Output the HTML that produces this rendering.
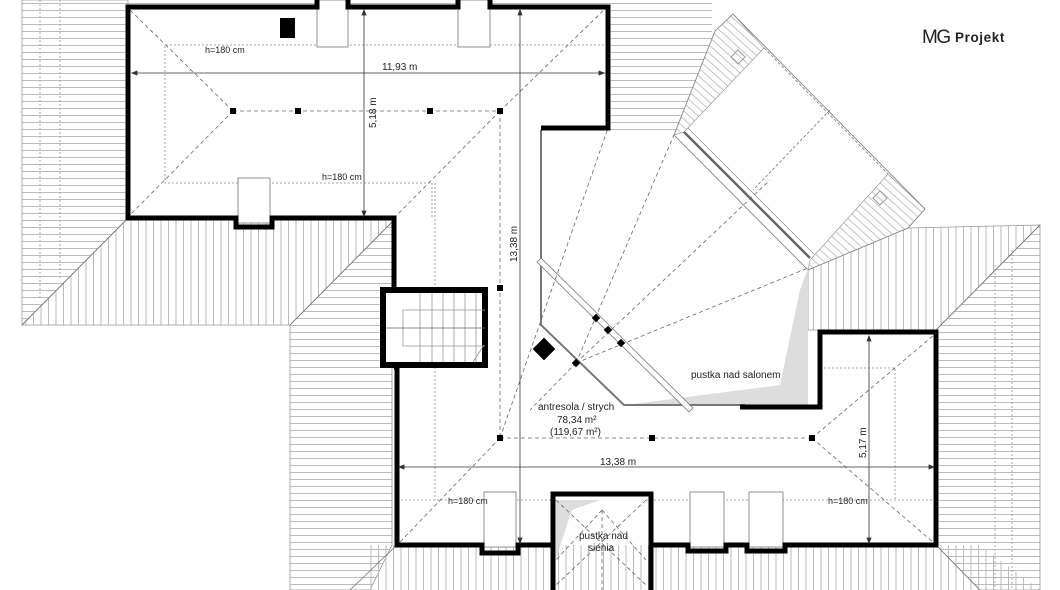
<!DOCTYPE html>
<html><head><meta charset="utf-8"><style>
html,body{margin:0;padding:0;background:#fff;}
svg{display:block;}
text{font-family:"Liberation Sans",sans-serif;fill:#222;}
</style></head><body>
<svg width="1060" height="590" viewBox="0 0 1060 590" xmlns="http://www.w3.org/2000/svg">
<defs>
<pattern id="hh" width="10" height="7" patternUnits="userSpaceOnUse"><line x1="0" y1="3.5" x2="10" y2="3.5" stroke="#bbb" stroke-width="1"/></pattern>
<pattern id="vv" width="7.5" height="10" patternUnits="userSpaceOnUse"><line x1="3.5" y1="0" x2="3.5" y2="10" stroke="#bbb" stroke-width="1"/></pattern>
<pattern id="dd" width="6" height="6" patternUnits="userSpaceOnUse" patternTransform="rotate(42)"><line x1="0" y1="3" x2="6" y2="3" stroke="#c4c4c4" stroke-width="1"/></pattern>
</defs>

<!-- hatched roofs -->
<polygon points="22,0 128,0 128,218 22,325" fill="url(#hh)" stroke="#999" stroke-width="0.8"/>
<polygon points="128,218 392,218 392,222 290,325 22,325" fill="url(#vv)" stroke="#999" stroke-width="0.8"/>
<polygon points="392,222 392,545 370,590 290,590 290,325" fill="url(#hh)" stroke="#999" stroke-width="0.8"/>
<polygon points="370,545 980,545 1040,590 370,590" fill="url(#vv)"/>
<polygon points="936,330 1040,225 1040,590 980,590 936,545" fill="url(#hh)" stroke="#999" stroke-width="0.8"/>
<polygon points="808,268 908,228 1040,225 936,330 818,330 808,330" fill="url(#vv)" stroke="#999" stroke-width="0.8"/>
<polygon points="608,0 712,0 712,132 608,132" fill="url(#hh)"/>
<rect x="128" y="0" width="482" height="6" fill="url(#hh)"/>
<line x1="128" y1="218" x2="22" y2="325" stroke="#777" stroke-width="0.8"/>
<line x1="392" y1="222" x2="290" y2="325" stroke="#777" stroke-width="0.8"/>
<line x1="936" y1="330" x2="1040" y2="225" stroke="#777" stroke-width="0.8"/>
<line x1="936" y1="545" x2="980" y2="590" stroke="#777" stroke-width="0.8"/>
<line x1="397" y1="545" x2="350" y2="590" stroke="#777" stroke-width="0.8"/>
<line x1="60" y1="0" x2="60" y2="280" stroke="#aaa" stroke-dasharray="2,2"/>
<line x1="40" y1="0" x2="40" y2="300" stroke="#aaa" stroke-dasharray="2,2"/>
<line x1="1012" y1="250" x2="1012" y2="590" stroke="#aaa" stroke-dasharray="2,2"/>
<line x1="995" y1="265" x2="995" y2="590" stroke="#aaa" stroke-dasharray="2,2"/>

<!-- interior white areas -->
<rect x="128" y="8" width="480" height="210" fill="#fff"/>
<polygon points="395,218 541,130 541,545 397,545 397,367 395,367" fill="#fff"/>
<rect x="397" y="405" width="539" height="140" fill="#fff"/>
<rect x="820" y="333" width="116" height="212" fill="#fff"/>
<rect x="541" y="130" width="67" height="300" fill="#fff"/>

<!-- angled roof wing -->
<polygon points="733,14 715,31 674,135 808,270 908,228 925,209" fill="#fff" stroke="#777" stroke-width="0.8"/>
<polygon points="733,14 715,31 674,135 684,132 764,48" fill="url(#dd)" stroke="#888" stroke-width="0.6"/>
<polygon points="908,228 925,209 888,174 810,260 808,270" fill="url(#dd)" stroke="#888" stroke-width="0.6"/>
<line x1="764" y1="48" x2="888" y2="174" stroke="#777" stroke-dasharray="3,2" stroke-width="0.8"/>
<line x1="684" y1="132" x2="810" y2="258" stroke="#666" stroke-width="2.5"/>
<line x1="688" y1="128" x2="814" y2="254" stroke="#999" stroke-width="0.8"/>
<line x1="830" y1="110" x2="753" y2="190" stroke="#777" stroke-dasharray="3,2" stroke-width="0.8"/>
<rect x="733" y="52" width="10" height="10" fill="none" stroke="#999" transform="rotate(45 738 57)"/>
<rect x="875" y="193" width="10" height="10" fill="none" stroke="#999" transform="rotate(45 880 198)"/>

<!-- grey voids -->
<polygon points="808,268 808,405 625,405 780,385 800,290" fill="#ddd"/>
<polygon points="556,500 600,500 572,510 562,540 556,560" fill="#ddd"/>

<!-- glazing / interior lines -->
<polyline points="541,130 541,325 624,405 745,405" fill="none" stroke="#777" stroke-width="2"/>
<polygon points="537,262 541,258 693,408 689,412" fill="#fff" stroke="#777" stroke-width="0.8"/>

<!-- fan dashed lines -->
<g stroke="#666" stroke-width="0.8" stroke-dasharray="4,3" fill="none">
<line x1="576" y1="363" x2="674" y2="135"/>
<line x1="576" y1="363" x2="770" y2="180"/>
<line x1="576" y1="363" x2="808" y2="268"/>
<line x1="576" y1="363" x2="530" y2="410"/>
<line x1="500" y1="111" x2="500" y2="438"/>
<line x1="500" y1="438" x2="608" y2="128"/>
<line x1="500" y1="438" x2="399" y2="543"/>
<line x1="812" y1="438" x2="934" y2="335"/>
<line x1="812" y1="438" x2="934" y2="543"/>
<line x1="500" y1="438" x2="812" y2="438"/>
<line x1="233" y1="111" x2="500" y2="111"/>
<line x1="233" y1="111" x2="130" y2="10"/>
<line x1="233" y1="111" x2="130" y2="215"/>
<line x1="500" y1="111" x2="606" y2="8"/>
<line x1="500" y1="111" x2="394" y2="218"/>
<line x1="556" y1="500" x2="646" y2="585"/>
<line x1="646" y1="500" x2="556" y2="585"/>
<line x1="602" y1="510" x2="556" y2="560"/>
<line x1="602" y1="510" x2="646" y2="560"/>
<line x1="602" y1="510" x2="602" y2="590"/>
</g>
<g stroke="#888" stroke-width="0.8" stroke-dasharray="2,2" fill="none">
<polyline points="608,45 165,45 165,183 432,183 432,218"/>
<line x1="397" y1="500" x2="556" y2="500"/>
<line x1="646" y1="500" x2="936" y2="500"/>
<polyline points="820,368 895,368 895,500"/>
<line x1="435" y1="183" x2="435" y2="500"/>
</g>

<!-- ridge markers -->
<g fill="#000">
<rect x="230" y="108" width="6" height="6"/><rect x="295" y="108" width="6" height="6"/>
<rect x="427" y="108" width="6" height="6"/><rect x="497" y="108" width="6" height="6"/>
<rect x="497" y="285" width="6" height="6"/>
<rect x="497" y="435" width="6" height="6"/><rect x="649" y="435" width="6" height="6"/><rect x="809" y="435" width="6" height="6"/>
<rect x="593" y="315" width="6" height="6" transform="rotate(45 596 318)"/>
<rect x="605" y="327" width="6" height="6" transform="rotate(45 608 330)"/>
<rect x="618" y="340" width="6" height="6" transform="rotate(45 621 343)"/>
<rect x="573" y="360" width="6" height="6" transform="rotate(45 576 363)"/>
<rect x="536" y="341" width="16" height="16" transform="rotate(45 544 349)"/>
<rect x="280" y="18" width="15" height="20"/>
</g>

<!-- dormers (thin) -->
<g fill="#fff" stroke="#777" stroke-width="0.8">
<rect x="317" y="0" width="31" height="47"/>
<rect x="458" y="0" width="32" height="47"/>
<rect x="238" y="178" width="32" height="45"/>
<rect x="484" y="492" width="32" height="55"/>
<rect x="690" y="492" width="34" height="55"/>
<rect x="749" y="492" width="34" height="55"/>
</g>

<!-- thick walls -->
<g fill="none" stroke="#000" stroke-width="5" stroke-linejoin="miter">
<polyline points="317,0 317,7 128,7 128,218 236,218 236,227 272,227 272,218 394,218 394,289"/>
<polyline points="348,0 348,7 458,7 458,0"/>
<polyline points="490,0 490,7 608,7 608,128 541,128"/>
<polyline points="394,367 397,367 397,545 482,545 482,553 518,553 518,545 553,545"/>
<polyline points="553,590 553,494 651,494 651,590"/>
<polyline points="651,545 688,545 688,551 726,551 726,545 747,545 747,551 785,551 785,545 936,545 936,332 820,332 820,407 740,407"/>
</g>
<!-- stair -->
<rect x="383" y="290" width="102" height="75" fill="#fff" stroke="#000" stroke-width="6"/>
<g stroke="#999" stroke-width="0.8" fill="none">
<line x1="420" y1="293" x2="420" y2="362"/><line x1="432" y1="293" x2="432" y2="362"/>
<line x1="443" y1="293" x2="443" y2="362"/><line x1="454" y1="293" x2="454" y2="362"/>
<line x1="465" y1="293" x2="465" y2="362"/><line x1="476" y1="293" x2="476" y2="362"/>
<polyline points="485,310 403,310 403,346 485,346"/>
<line x1="386" y1="328" x2="485" y2="328" stroke="#666"/>
<line x1="473" y1="362" x2="484" y2="345"/>
</g>

<!-- dimension lines -->
<g stroke="#333" stroke-width="0.8" fill="#333">
<line x1="132" y1="73" x2="606" y2="73"/>
<polygon points="132,73 137,71 137,75"/><polygon points="604,73 599,71 599,75"/>
<line x1="364" y1="10" x2="364" y2="216"/>
<polygon points="364,10 362,15 366,15"/><polygon points="364,216 362,211 366,211"/>
<line x1="520" y1="10" x2="520" y2="543"/>
<polygon points="520,10 518,15 522,15"/><polygon points="520,543 518,538 522,538"/>
<line x1="399" y1="467" x2="934" y2="467"/>
<polygon points="399,467 404,465 404,469"/><polygon points="934,467 929,465 929,469"/>
<line x1="869" y1="336" x2="869" y2="543"/>
<polygon points="869,336 867,341 871,341"/><polygon points="869,543 867,538 871,538"/>
</g>

<!-- labels -->
<g font-size="9">
<text x="205" y="53">h=180 cm</text>
<text x="322" y="180">h=180 cm</text>
<text x="448" y="504">h=180 cm</text>
<text x="828" y="504">h=180 cm</text>
</g>
<g font-size="10">
<text x="382" y="70">11,93 m</text>
<text x="600" y="465">13,38 m</text>
<text transform="translate(376,128) rotate(-90)">5,18 m</text>
<text transform="translate(517,262) rotate(-90)">13,38 m</text>
<text transform="translate(866,458) rotate(-90)">5,17 m</text>
<text x="691" y="378">pustka nad salonem</text>
<text x="538" y="410">antresola / strych</text>
<text x="557" y="423">78,34 m²</text>
<text x="550" y="435">(119,67 m²)</text>
<text x="579" y="539">pustka nad</text>
<text x="588" y="551">sienia</text>
</g>
<text x="922" y="43" font-size="19" fill="#111" style="letter-spacing:-1.5px">MG</text>
<text x="955" y="42" font-size="13.5" font-weight="bold" fill="#111" style="letter-spacing:0.6px">Projekt</text>
</svg>
</body></html>
